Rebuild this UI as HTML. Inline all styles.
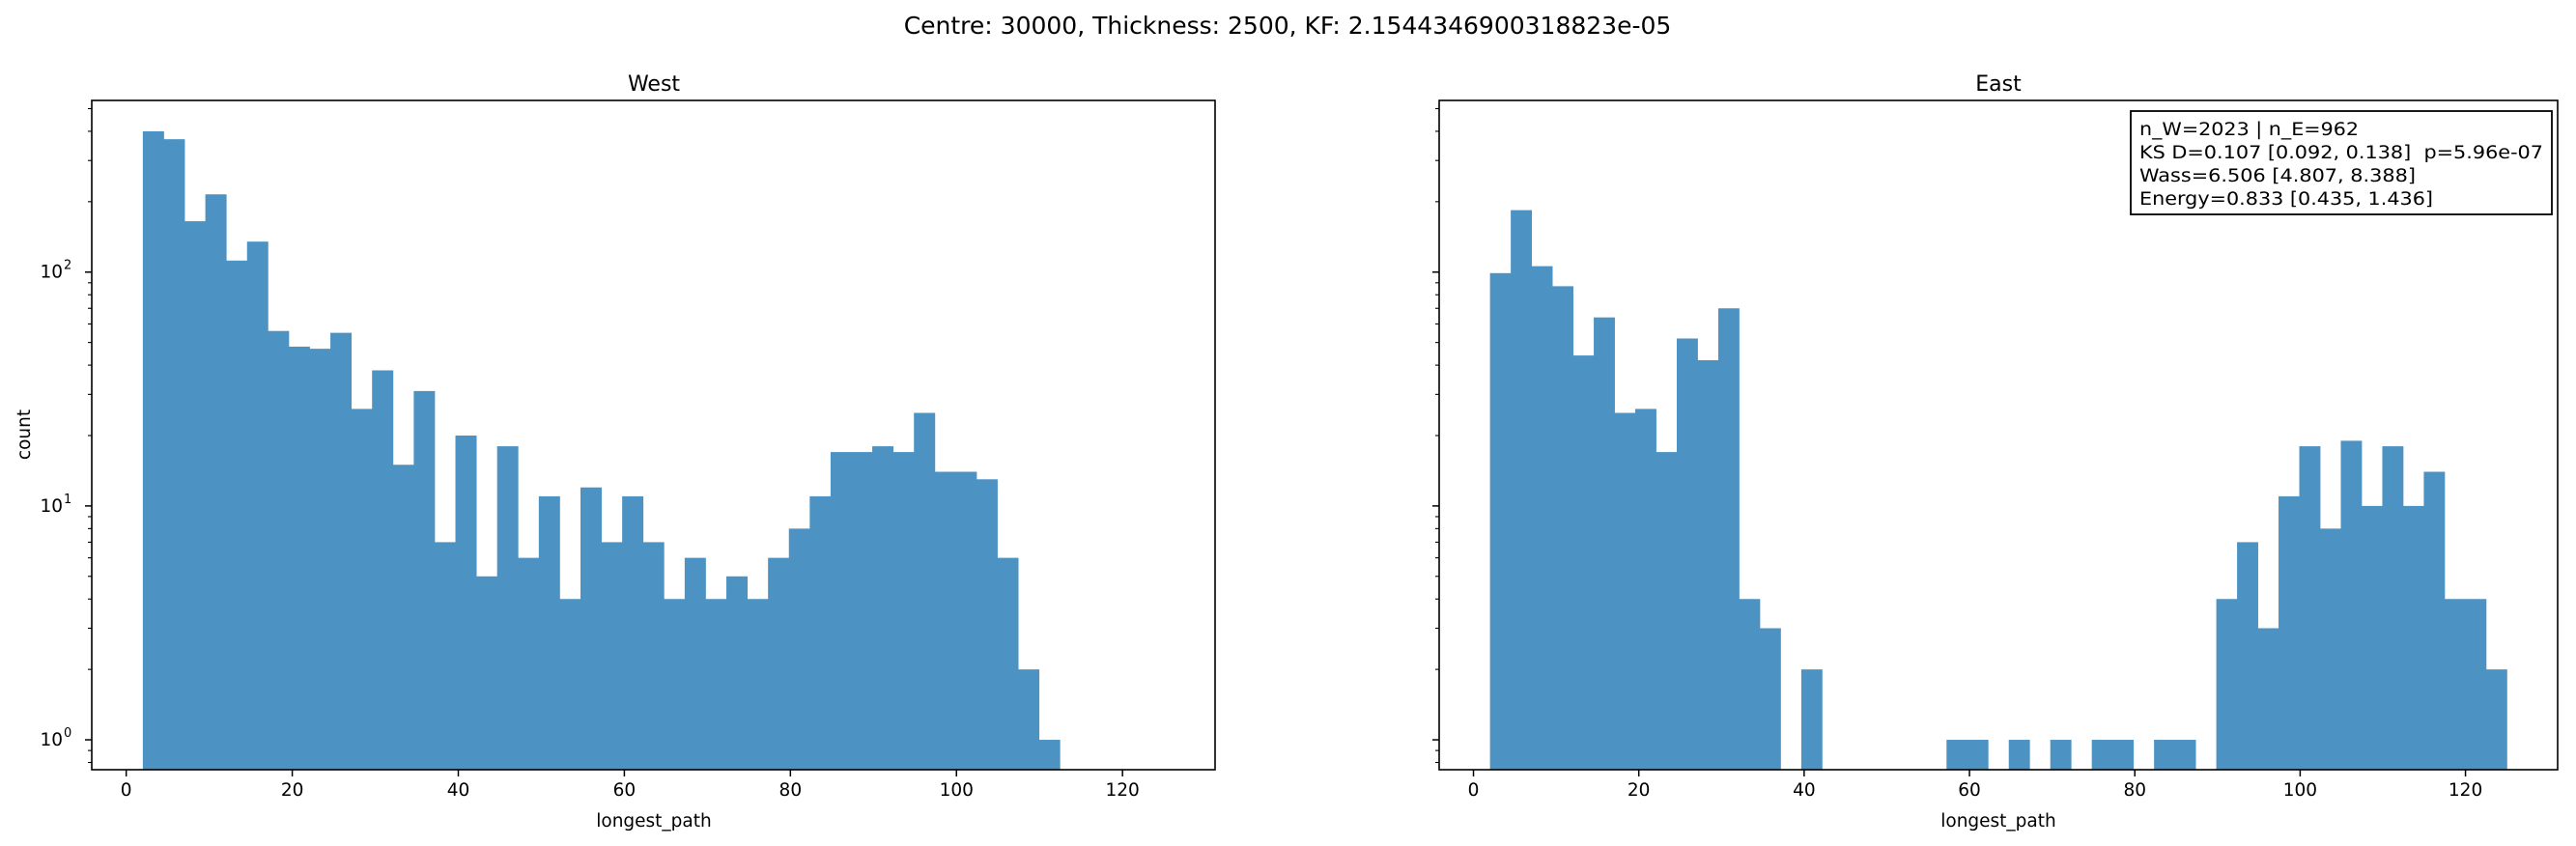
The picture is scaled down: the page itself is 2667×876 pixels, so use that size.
<!DOCTYPE html>
<html><head><meta charset="utf-8"><style>
html,body{margin:0;padding:0;background:#fff;}
svg{display:block;font-family:"DejaVu Sans","Liberation Sans",sans-serif;}
</style></head><body>
<svg id="fig" width="2667" height="876" viewBox="0 0 2667 876" xmlns="http://www.w3.org/2000/svg">
<text x="1333" y="35" font-size="25" text-anchor="middle">Centre: 30000, Thickness: 2500, KF: 2.1544346900318823e-05</text>
<text x="677" y="94" font-size="22" text-anchor="middle">West</text>
<text x="2069" y="94" font-size="22" text-anchor="middle">East</text>
<text x="0" y="0" font-size="18.5" text-anchor="middle" transform="translate(31,450) rotate(-90)">count</text>
<text x="677" y="856" font-size="18.5" text-anchor="middle">longest_path</text>
<text x="2069" y="856" font-size="18.5" text-anchor="middle">longest_path</text>
<g id="west"></g>
<g id="east"></g>
<g>
<rect x="2206" y="115" width="436" height="107" fill="#fff" stroke="#000" stroke-width="1.8"/>
<text x="2215" y="140" font-size="18.5" textLength="227" lengthAdjust="spacingAndGlyphs">n_W=2023 | n_E=962</text>
<text x="2215" y="164" font-size="18.5" textLength="418" lengthAdjust="spacingAndGlyphs" xml:space="preserve">KS D=0.107 [0.092, 0.138]  p=5.96e-07</text>
<text x="2215" y="188" font-size="18.5" textLength="286" lengthAdjust="spacingAndGlyphs">Wass=6.506 [4.807, 8.388]</text>
<text x="2215" y="212" font-size="18.5" textLength="304" lengthAdjust="spacingAndGlyphs">Energy=0.833 [0.435, 1.436]</text>
</g>
</svg>
<script>
const binStart = 2;
const binEnd = 125;
const westCounts = [400,370,165,215,112,135,56,48,47,55,26,38,15,31,7,20,5,18,6,11,4,12,7,11,7,4,6,4,5,4,6,8,11,17,17,18,17,25,14,14,13,6,2,1,0,0,0,0,0];
const eastCounts = [99,184,106,87,44,64,25,26,17,52,42,70,4,3,0,2,0,0,0,0,0,0,1,1,0,1,0,1,0,1,1,0,1,1,0,4,7,3,11,18,8,19,10,18,10,14,4,4,2];
const xTicks = [0,20,40,60,80,100,120];
const yTickLabels = ["0","1","2"];
{
const xMin = -4.15, xMax = 131.15, yMinLog = Math.log10(0.745), yMaxLog = Math.log10(542);
const NS = "http://www.w3.org/2000/svg";
const axTop = 104, axBottom = 797;
function mk(tag, attrs, parent){const e=document.createElementNS(NS,tag);for(const k in attrs)e.setAttribute(k,attrs[k]);parent.appendChild(e);return e;}
function panel(g, left, right, counts, name, showYLabels){
  const xs = v => left + (v - xMin) / (xMax - xMin) * (right - left);
  const ys = v => axBottom - (Math.log10(v) - yMinLog) / (yMaxLog - yMinLog) * (axBottom - axTop);
  const n = counts.length, w = (binEnd - binStart) / n;
  counts.forEach((c, i) => {
    if (c <= 0) return;
    const x0 = xs(binStart + i*w), x1 = xs(binStart + (i+1)*w), y = ys(c);
    const r = mk('rect', {x:x0, y:y, width:x1-x0+0.4, height:axBottom-y, fill:'#4c92c3'}, g);
    
    
  });
  const fr = mk('rect', {x:left, y:axTop, width:right-left, height:axBottom-axTop, fill:'none', stroke:'#000', 'stroke-width':1.6}, g);
  
  
  xTicks.forEach(t => {
    const x = xs(t);
    mk('line', {x1:x, x2:x, y1:axBottom, y2:axBottom+7, stroke:'#000', 'stroke-width':1.5}, g);
    const tx = mk('text', {x:x, y:axBottom+27, 'font-size':18.5, 'text-anchor':'middle'}, g);
    tx.textContent = t;
    
    
  });
  [-1,0,1,2].forEach(d => {
    for (let m = 1; m <= 9; m++) {
      const v = m * Math.pow(10, d);
      const lv = Math.log10(v);
      if (lv < yMinLog || lv > yMaxLog) continue;
      const y = ys(v), len = m === 1 ? 7 : 4;
      mk('line', {x1:left-len, x2:left, y1:y, y2:y, stroke:'#000', 'stroke-width': m===1?1.5:1.1}, g);
    }
  });
  if (showYLabels) {
    yTickLabels.forEach(e => {
      const y = ys(Math.pow(10, +e));
      const tx = mk('text', {x:left-30, y:y+6, 'font-size':18.5, 'text-anchor':'end'}, g);
      tx.textContent = '10';
      
      
      const sp = mk('text', {x:left-29, y:y-3, 'font-size':13}, g);
      sp.textContent = e;
    });
  }
}
panel(document.getElementById('west'), 95, 1258, westCounts, 'west', true);
panel(document.getElementById('east'), 1490, 2648, eastCounts, 'east', false);
}
</script>
</body></html>
